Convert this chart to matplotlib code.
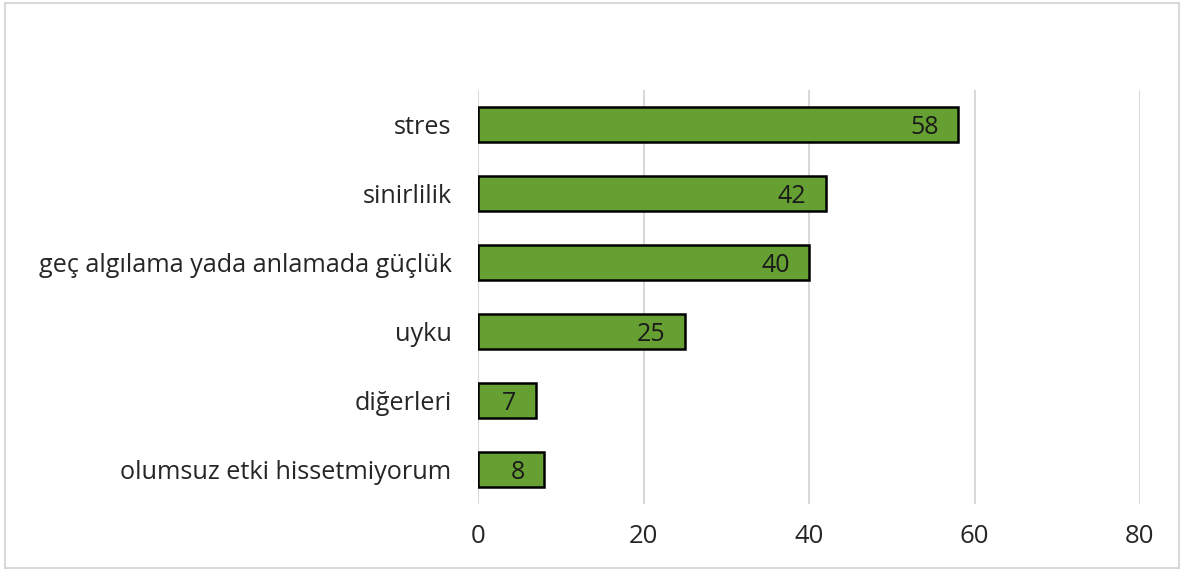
import matplotlib
matplotlib.use("Agg")
import matplotlib.pyplot as plt
from matplotlib.patches import Rectangle

categories = ["stres", "sinirlilik", "geç algılama yada anlamada güçlük", "uyku", "diğerleri", "olumsuz etki hissetmiyorum"]
values = [58, 42, 40, 25, 7, 8]
xticks = [0, 20, 40, 60, 80]

plt.rcParams['font.family'] = ['Open Sans', 'DejaVu Sans']

fig = plt.figure(figsize=(11.84, 5.71), dpi=100)
ax = fig.add_axes([478/1184, 1 - 504/571, (1140 - 478)/1184, (504 - 90)/571])

y = list(range(len(categories)))[::-1]
bars = ax.barh(y, values, height=0.51, color="#66A032", edgecolor="black", linewidth=1.8, zorder=3)
for yi, v in zip(y, values):
    ax.annotate(str(v), xy=(v, yi), xytext=(-14, 0), textcoords="offset points",
                ha="right", va="center_baseline", fontsize=18, color="#1a1a1a", zorder=4)

ax.set_xlim(0, 80)
ax.set_ylim(-0.5, len(categories) - 0.5)
ax.set_xticks(xticks)
ax.set_xticklabels([str(t) for t in xticks], fontsize=18.5)
ax.set_yticks(y)
ax.set_yticklabels(categories, fontsize=18.2)
ax.tick_params(axis="both", length=0, colors="#262626")
ax.tick_params(axis="y", pad=19)
ax.tick_params(axis="x", pad=14.5)
ax.grid(axis="x", color="#D9D9D9", linewidth=1.5, zorder=0)
for s in ax.spines.values():
    s.set_visible(False)

fig.patches.append(Rectangle((5/1184, 1 - 568/571), (1179 - 5)/1184, (568 - 3)/571,
                             transform=fig.transFigure, fill=False, edgecolor="#D9D9D9", linewidth=1.5))

fig.savefig("out.png", dpi=100)
